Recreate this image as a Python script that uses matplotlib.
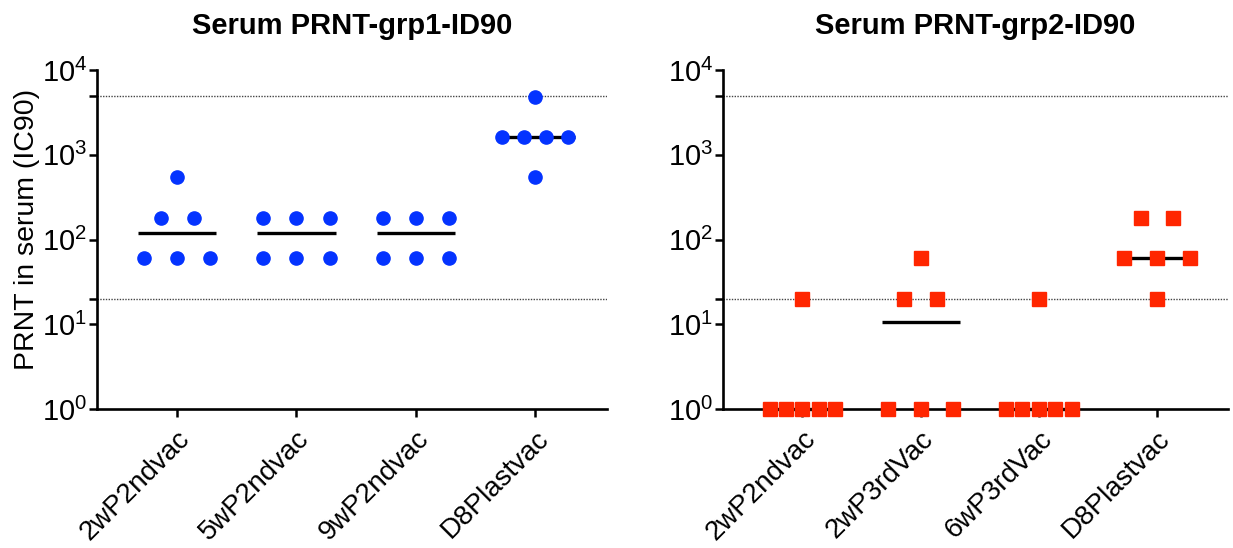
import numpy as np
import matplotlib
matplotlib.use("Agg")
import matplotlib.pyplot as plt

plt.rcParams['font.family'] = ['Liberation Sans', 'DejaVu Sans']
plt.rcParams['mathtext.fontset'] = 'custom'
plt.rcParams['mathtext.rm'] = 'Liberation Sans'
plt.rcParams['mathtext.it'] = 'Liberation Sans:italic'

# %% data (PRNT titres, ID90)
grp1_labels = ['2wP2ndvac', '5wP2ndvac', '9wP2ndvac', 'D8Plastvac']
grp1_2wP2ndvac = [60, 60, 60, 180, 180, 540]
grp1_5wP2ndvac = [60, 60, 60, 180, 180, 180]
grp1_9wP2ndvac = [60, 60, 60, 180, 180, 180]
grp1_D8Plastvac = [540, 1620, 1620, 1620, 1620, 4860]

grp2_labels = ['2wP2ndvac', '2wP3rdVac', '6wP3rdVac', 'D8Plastvac']
grp2_2wP2ndvac = [1, 1, 1, 1, 1, 20]
grp2_2wP3rdVac = [1, 1, 1, 20, 20, 60]
grp2_6wP3rdVac = [1, 1, 1, 1, 1, 20]
grp2_D8Plastvac = [20, 60, 60, 60, 180, 180]

lod_lines = [20, 5000]

grp1 = [grp1_2wP2ndvac, grp1_5wP2ndvac, grp1_9wP2ndvac, grp1_D8Plastvac]
grp2 = [grp2_2wP2ndvac, grp2_2wP3rdVac, grp2_6wP3rdVac, grp2_D8Plastvac]


def spread(vals, w=0.277):
    # prism-like horizontal spreading of equal values
    vals = np.asarray(vals, dtype=float)
    off = np.zeros(len(vals))
    for v in np.unique(vals):
        idx = np.where(vals == v)[0]
        n = len(idx)
        if n > 1:
            step = min(w, 2 * w / (n - 1))
            off[idx] = (np.arange(n) - (n - 1) / 2) * step
    return off


def panel(ax, groups, labels, title, color, marker, ms, ylabel=None):
    for i, vals in enumerate(groups):
        x = i + spread(vals)
        med = np.median(vals)
        ax.plot([i - 0.33, i + 0.33], [med, med], color='black', lw=2.4,
                solid_capstyle='butt', zorder=2, clip_on=False)
        ax.plot(x, vals, linestyle='none', marker=marker, ms=ms, color=color,
                mec=color, zorder=4, clip_on=False)
    for y in lod_lines:
        ax.axhline(y, color='#444444', lw=1.0, ls=(0, (1, 1)), zorder=1)
    ax.set_yscale('log')
    ax.set_ylim(1, 1e4)
    ax.set_xlim(-0.67, 3.6)
    ax.set_yticks([1, 10, 100, 1000, 10000])
    ax.set_yticklabels([r'$\mathregular{10^{%d}}$' % k for k in range(5)])
    ax.set_yticks(lod_lines, minor=True)
    ax.yaxis.set_minor_formatter(plt.NullFormatter())
    ax.set_xticks(range(len(labels)))
    ax.set_xticklabels(labels, rotation=45, ha='right', rotation_mode='anchor',
                       fontsize=20)
    ax.tick_params(axis='y', which='both', direction='out', length=6, width=1.8,
                   labelsize=21, pad=1)
    ax.tick_params(axis='x', direction='out', length=6, width=1.8, pad=6)
    for s in ['top', 'right']:
        ax.spines[s].set_visible(False)
    for s in ['left', 'bottom']:
        ax.spines[s].set_linewidth(1.9)
    ax.set_title(title, fontsize=21, fontweight='bold', pad=26)
    if ylabel:
        ax.set_ylabel(ylabel, fontsize=20.5)
        ax.yaxis.set_label_coords(-0.112, 0.53)


fig = plt.figure(figsize=(12.33, 5.48), dpi=100)
ax1 = fig.add_axes([0.0787, 0.2536, 0.4136, 0.6186])
ax2 = fig.add_axes([0.5864, 0.2536, 0.4096, 0.6186])

panel(ax1, grp1, grp1_labels, 'Serum PRNT-grp1-ID90', '#0433FF', 'o', 9.5,
      ylabel='PRNT in serum (IC90)')
panel(ax2, grp2, grp2_labels, 'Serum PRNT-grp2-ID90', '#FF2600', 's', 9.5)

plt.savefig('out.png', dpi=100)
